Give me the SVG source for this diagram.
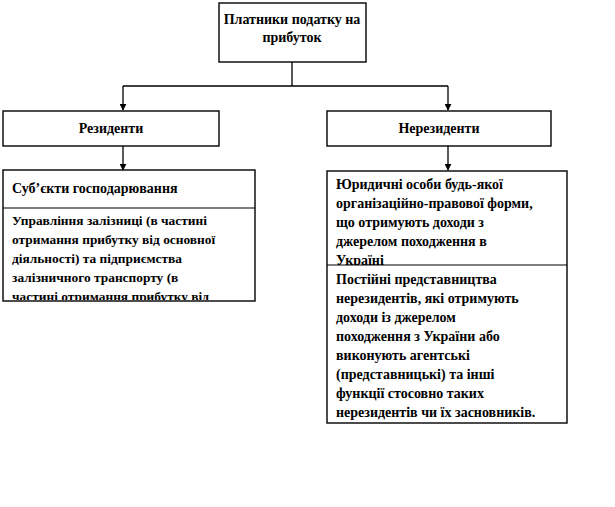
<svg xmlns="http://www.w3.org/2000/svg" width="615" height="507" viewBox="0 0 615 507">
<style>
.box{fill:#fff;stroke:#000;stroke-width:1.4}
.sep{stroke:#000;stroke-width:1.2}
.t{font-family:"Liberation Serif","Times New Roman",serif;font-weight:bold;font-size:14px;fill:#000}
.s{font-size:13.4px}
.c{text-anchor:middle}
.ln{fill:none;stroke:#000;stroke-width:1.3}
</style>
<defs>
<marker id="ah" viewBox="0 0 10 10" refX="9" refY="5" markerWidth="7" markerHeight="7" markerUnits="userSpaceOnUse" orient="auto">
<path d="M0,0 L10,5 L0,10 Z" fill="#000"/>
</marker>
<clipPath id="clipL"><rect x="4" y="209" width="250" height="91"/></clipPath>
<clipPath id="clipR1"><rect x="328" y="172" width="238" height="93"/></clipPath>
</defs>
<rect width="615" height="507" fill="#fff"/>
<g id="connectors">
<path class="ln" d="M292,62 V86 M123,86 H448"/>
<path class="ln" d="M123,86 V110" marker-end="url(#ah)"/>
<path class="ln" d="M448,86 V110" marker-end="url(#ah)"/>
<path class="ln" d="M123,146 V170" marker-end="url(#ah)"/>
<path class="ln" d="M448,146 V170" marker-end="url(#ah)"/>
</g>
<g id="payers">
<rect class="box" x="219" y="3" width="147" height="59"/>
<text class="t c" x="292" y="24">Платники податку на</text>
<text class="t c" x="292" y="42">прибуток</text>
</g>
<g id="residents">
<rect class="box" x="3" y="111" width="216" height="35"/>
<text class="t c" x="111" y="133">Резиденти</text>
</g>
<g id="nonresidents">
<rect class="box" x="327" y="111" width="224" height="35"/>
<text class="t c" x="439" y="133">Нерезиденти</text>
</g>
<g id="subjects">
<rect class="box" x="3" y="170" width="252" height="131"/>
<line class="sep" x1="3" y1="208" x2="255" y2="208"/>
<text class="t" x="12" y="193">Суб’єкти господарювання</text>
<g clip-path="url(#clipL)">
<text class="t s" x="12" y="225">Управління залізниці (в частині</text>
<text class="t s" x="12" y="244">отримання прибутку від  основної</text>
<text class="t s" x="12" y="263">діяльності)  та підприємства</text>
<text class="t s" x="12" y="282">залізничного  транспорту (в</text>
<text class="t s" x="12" y="301">частині отримання прибутку від</text>
</g>
</g>
<g id="nonres-detail">
<rect class="box" x="327" y="171" width="240" height="252"/>
<line class="sep" x1="327" y1="265" x2="567" y2="265"/>
<g clip-path="url(#clipR1)">
<text class="t" x="336" y="189">Юридичні особи будь-якої</text>
<text class="t" x="336" y="208">організаційно-правової форми,</text>
<text class="t" x="336" y="227">що отримують доходи з</text>
<text class="t" x="336" y="246">джерелом походження в</text>
<text class="t" x="336" y="265">Україні</text>
</g>
<text class="t" x="336" y="284">Постійні представництва</text>
<text class="t" x="336" y="303">нерезидентів, які отримують</text>
<text class="t" x="336" y="322">доходи із джерелом</text>
<text class="t" x="336" y="341">походження з України або</text>
<text class="t" x="336" y="360">виконують агентські</text>
<text class="t" x="336" y="379">(представницькі) та інші</text>
<text class="t" x="336" y="398">функції  стосовно таких</text>
<text class="t" x="336" y="417">нерезидентів чи їх  засновників.</text>
</g>
</svg>
